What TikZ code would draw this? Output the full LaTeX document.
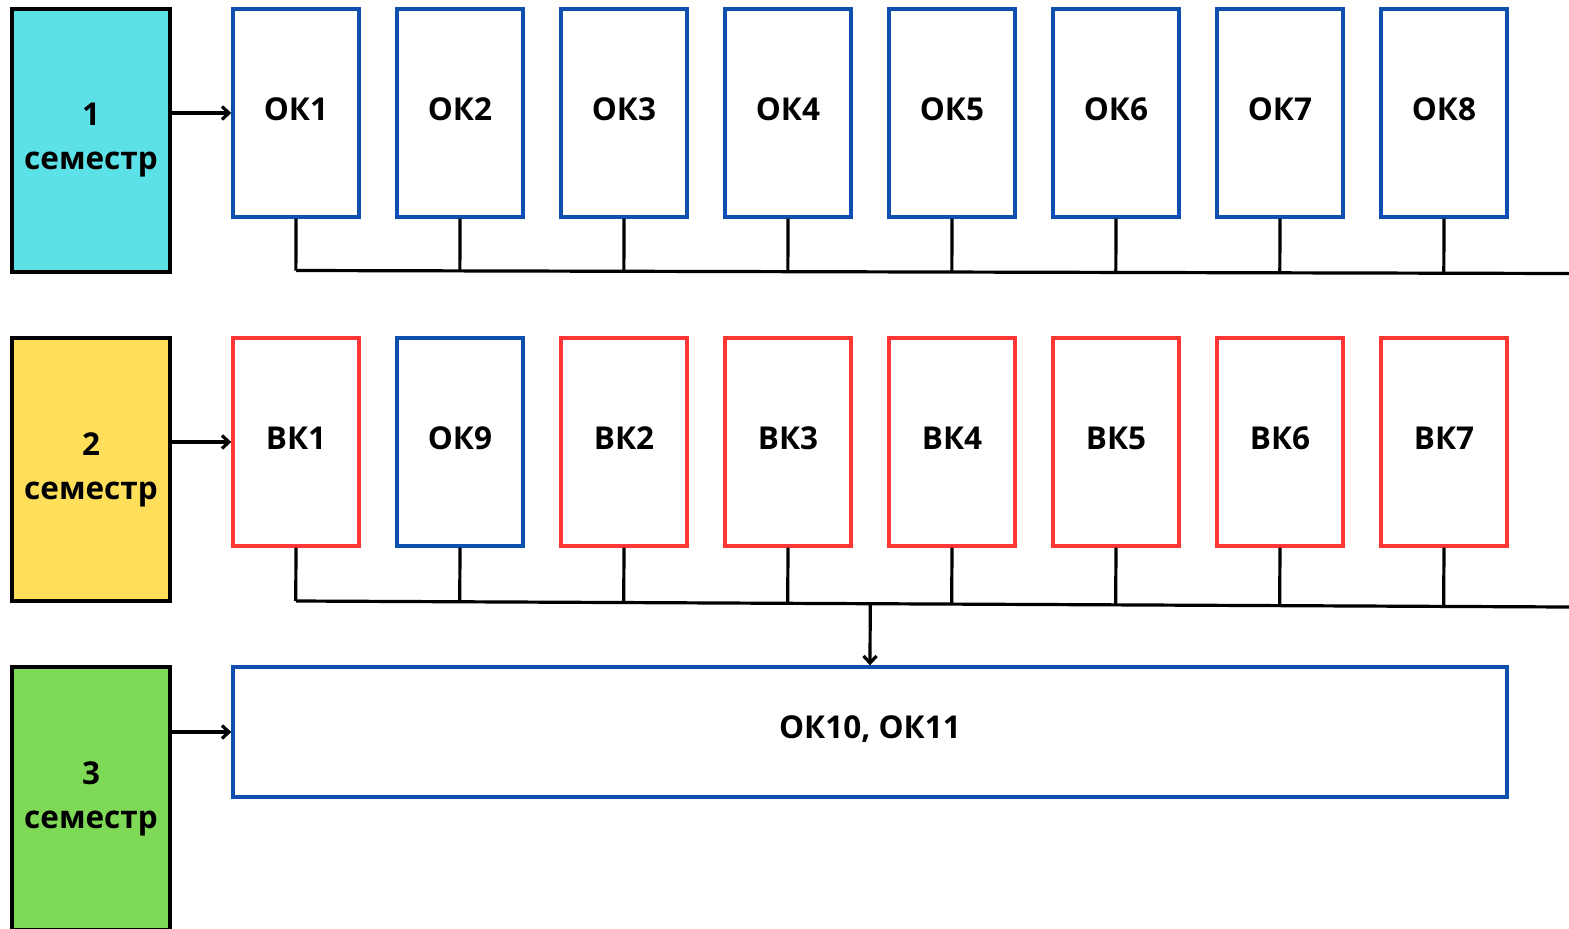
\documentclass[tikz,border=0pt]{standalone}
\usepackage{fontspec}
\setmainfont{Open Sans}
\usetikzlibrary{arrows.meta,calc}
\definecolor{okblue}{HTML}{0E4FAF}
\definecolor{vkred}{HTML}{FF3636}
\definecolor{semcyan}{HTML}{5CE1E6}
\definecolor{semyellow}{HTML}{FFDE59}
\definecolor{semgreen}{HTML}{7ED957}
\begin{document}
\begin{tikzpicture}[x=1pt,y=-1pt,
  every node/.style={font=\fontsize{31.5}{44}\selectfont\bfseries, inner sep=0pt},
  sem/.style={draw=black, line width=3.4pt, minimum width=158pt, minimum height=263pt, align=center},
  course/.style={draw=#1, line width=3.4pt, fill=white, minimum width=126pt, minimum height=208pt, text depth=8pt},
  conn/.style={line width=3.2pt, draw=black},
  arr/.style={conn, -{Straight Barb[length=7pt,width=13pt,line width=3.2pt]}}
]
\useasboundingbox (0,0) rectangle (1569,929);
% semester boxes
\node[sem, fill=semcyan] (s1) at (91,140.5) {1\\семестр};
\node[sem, fill=semyellow] (s2) at (91,469.5) {2\\семестр};
\node[sem, fill=semgreen] (s3) at (91,798.5) {3\\семестр};
% row 1
\foreach \i/\t in {1/ОК1,2/ОК2,3/ОК3,4/ОК4,5/ОК5,6/ОК6,7/ОК7,8/ОК8}
  \node[course=okblue] (a\i) at ({296+164*(\i-1)},113) {\t};
% row 2
\node[course=vkred] (b1) at (296,442) {ВК1};
\node[course=okblue] (b2) at (460,442) {ОК9};
\node[course=vkred] (b3) at (624,442) {ВК2};
\node[course=vkred] (b4) at (788,442) {ВК3};
\node[course=vkred] (b5) at (952,442) {ВК4};
\node[course=vkred] (b6) at (1116,442) {ВК5};
\node[course=vkred] (b7) at (1280,442) {ВК6};
\node[course=vkred] (b8) at (1444,442) {ВК7};
% row 3
\node[draw=okblue, line width=3.4pt, minimum width=1274pt, minimum height=130pt, text depth=10pt] (c1) at (870,732) {ОК10, ОК11};
% arrows from semesters
\draw[arr] (s1.east |- a1.west) -- (a1.west);
\draw[arr] (s2.east |- b1.west) -- (b1.west);
\draw[arr] (s3.east |- c1.west) -- (c1.west);
% bus lines
\coordinate (r1L) at (296,270.5);
\coordinate (r1R) at (1569,273.5);
\coordinate (r2L) at (296,601);
\coordinate (r2R) at (1569,607);
\draw[conn] (r1L) -- (r1R);
\draw[conn] (r2L) -- (r2R);
\foreach \i in {1,...,8}{
  \draw[conn] (a\i.south) -- ($(r1L)!(a\i.south)!(r1R)$);
  \draw[conn] (b\i.south) -- ($(r2L)!(b\i.south)!(r2R)$);
}
\coordinate (drop) at ($(r2L)!(c1.north)!(r2R)$);
\draw[arr] (drop) -- (c1.north);
\end{tikzpicture}
\end{document}
